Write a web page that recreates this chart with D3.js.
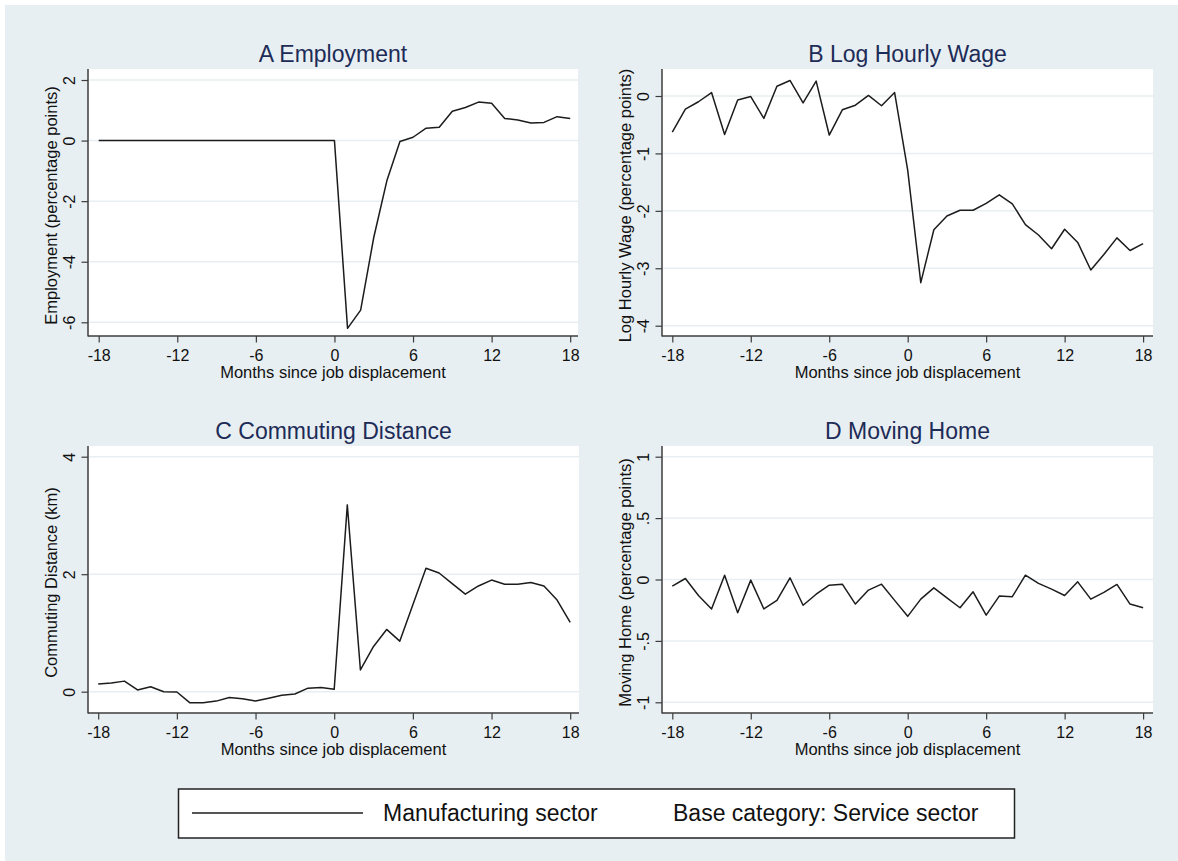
<!DOCTYPE html>
<html>
<head>
<meta charset="utf-8">
<script src="https://cdn.jsdelivr.net/npm/d3@7/dist/d3.min.js"></script>
<style>
  html, body { margin: 0; padding: 0; background: #ffffff; }
  svg { display: block; font-family: "Liberation Sans", Arial, sans-serif; }
</style>
</head>
<body>
<svg id="chart" width="1178" height="861"></svg>
<script>
// Months relative to job displacement
const months = [-18,-17,-16,-15,-14,-13,-12,-11,-10,-9,-8,-7,-6,-5,-4,-3,-2,-1,
                0,1,2,3,4,5,6,7,8,9,10,11,12,13,14,15,16,17,18];
const xTicks = [-18, -12, -6, 0, 6, 12, 18];

// Manufacturing-sector coefficients (base category: service sector)
const employment = [0,0,0,0,0,0,0,0,0,0,0,0,0,0,0,0,0,0,
                    0,-6.2,-5.6,-3.2,-1.33,-0.03,0.11,0.41,0.44,0.97,1.09,1.27,1.23,0.73,0.68,0.58,0.6,0.79,0.73];
const logWage = [-0.63,-0.23,-0.1,0.06,-0.67,-0.07,-0.01,-0.39,0.17,0.27,-0.12,0.26,-0.68,-0.24,-0.16,0.01,-0.17,0.06,
                 -1.29,-3.25,-2.33,-2.09,-1.99,-1.99,-1.87,-1.72,-1.88,-2.24,-2.42,-2.66,-2.32,-2.55,-3.03,-2.76,-2.47,-2.69,-2.57];
const commuting = [0.13,0.15,0.18,0.03,0.085,0.0,-0.005,-0.19,-0.19,-0.16,-0.1,-0.12,-0.16,-0.11,-0.06,-0.04,0.06,0.07,
                   0.04,3.18,0.37,0.77,1.06,0.86,1.48,2.1,2.02,1.84,1.66,1.8,1.9,1.83,1.83,1.86,1.8,1.56,1.18];
const movingHome = [-0.054,0.008,-0.13,-0.24,0.035,-0.27,-0.005,-0.24,-0.17,0.014,-0.21,-0.12,-0.046,-0.038,-0.2,-0.086,-0.038,-0.17,
                    -0.3,-0.16,-0.068,-0.15,-0.23,-0.1,-0.29,-0.135,-0.14,0.035,-0.032,-0.078,-0.13,-0.019,-0.16,-0.105,-0.04,-0.2,-0.23];

// Panel titles, y-axis titles and y ticks
const panelTitles = ["A Employment", "B Log Hourly Wage", "C Commuting Distance", "D Moving Home"];
const yTitles = ["Employment (percentage points)", "Log Hourly Wage (percentage points)",
                 "Commuting Distance (km)", "Moving Home (percentage points)"];
const yTicksA = [-6, -4, -2, 0, 2];
const yTicksB = [-4, -3, -2, -1, 0];
const yTicksC = [0, 2, 4];
const yTicksD = [-1, -0.5, 0, 0.5, 1];
const xTitle = "Months since job displacement";
const legendLabels = ["Manufacturing sector", "Base category: Service sector"];

const series = [employment, logWage, commuting, movingHome];
const yTickSets = [yTicksA, yTicksB, yTicksC, yTicksD];

// Layout of each panel: plot region, x range for [-18, 18], y domain/range
const layout = [
  { box: [88, 578, 69, 336],  xr: [98.7, 570.2],  yd: [-6, 2], yr: [322.3, 80.0] },
  { box: [662, 1153, 69, 336], xr: [672.3, 1143.1], yd: [-4, 0], yr: [325.7, 96.0] },
  { box: [88, 579, 446, 713], xr: [98.2, 570.2],  yd: [0, 4],  yr: [691.7, 456.7] },
  { box: [662, 1153, 446, 713], xr: [672.3, 1143.1], yd: [-1, 1], yr: [702.3, 456.7] }
];

const BG = "#e8eff2";
const AXIS = "#3c3c3c";
const GRID = "#e7eff2";
const LINE = "#1c1c1c";
const TITLE = "#1d2b57";

const svg = d3.select("#chart");

// Outer graph region
svg.append("rect").attr("x", 5).attr("y", 5).attr("width", 1173).attr("height", 856).attr("fill", BG);

const fmt = d => {
  if (d === 0) return "0";
  let s = String(d);
  s = s.replace("0.", ".");
  return s;
};

layout.forEach((L, i) => {
  const [bx0, bx1, by0, by1] = L.box;
  const x = d3.scaleLinear().domain([-18, 18]).range(L.xr);
  const y = d3.scaleLinear().domain(L.yd).range(L.yr);
  const g = svg.append("g");

  // plot region
  g.append("rect").attr("x", bx0).attr("y", by0).attr("width", bx1 - bx0).attr("height", by1 - by0)
    .attr("fill", "#ffffff");

  // horizontal grid lines
  g.append("g").selectAll("line").data(yTickSets[i]).join("line")
    .attr("x1", bx0 + 1).attr("x2", bx1)
    .attr("y1", d => y(d)).attr("y2", d => y(d))
    .attr("stroke", GRID).attr("stroke-width", 1.5);

  // data line
  const line = d3.line().x((d, j) => x(months[j])).y(d => y(d));
  g.append("path").datum(series[i]).attr("d", line)
    .attr("fill", "none").attr("stroke", LINE).attr("stroke-width", 1.5)
    .attr("stroke-linejoin", "round");

  // y axis
  const yAxis = g.append("g").attr("transform", `translate(${bx0},0)`)
    .call(d3.axisLeft(y).tickValues(yTickSets[i]).tickSize(6.5).tickFormat(fmt));
  yAxis.select(".domain").remove();
  yAxis.selectAll(".tick line").attr("stroke", AXIS).attr("stroke-width", 1.2);
  yAxis.selectAll(".tick text")
    .attr("x", null).attr("dy", null)
    .attr("transform", "translate(-13.5,0) rotate(-90)")
    .attr("text-anchor", "middle")
    .attr("fill", "#111").attr("font-size", 16)
    .attr("font-family", "Liberation Sans, Arial, sans-serif");

  // x axis
  const xAxis = g.append("g").attr("transform", `translate(0,${by1})`)
    .call(d3.axisBottom(x).tickValues(xTicks).tickSize(6.5).tickFormat(d => String(d)));
  xAxis.select(".domain").remove();
  xAxis.selectAll(".tick line").attr("stroke", AXIS).attr("stroke-width", 1.2);
  xAxis.selectAll(".tick text")
    .attr("y", null).attr("dy", null)
    .attr("transform", "translate(0,25)")
    .attr("fill", "#111").attr("font-size", 16)
    .attr("font-family", "Liberation Sans, Arial, sans-serif");

  // axis lines
  g.append("line").attr("x1", bx0).attr("x2", bx0).attr("y1", by0).attr("y2", by1 + 0.6)
    .attr("stroke", AXIS).attr("stroke-width", 1.5);
  g.append("line").attr("x1", bx0).attr("x2", bx1).attr("y1", by1).attr("y2", by1)
    .attr("stroke", AXIS).attr("stroke-width", 1.5);

  // axis titles
  g.append("text").attr("x", (bx0 + bx1) / 2).attr("y", by1 + 42)
    .attr("text-anchor", "middle").attr("font-size", 16.5).attr("fill", "#111")
    .text(xTitle);
  g.append("text")
    .attr("transform", `translate(${bx0 - 31.5},${(by0 + by1) / 2 + 3}) rotate(-90)`)
    .attr("text-anchor", "middle").attr("font-size", 16.5).attr("fill", "#111")
    .text(yTitles[i]);

  // panel title
  g.append("text").attr("x", (bx0 + bx1) / 2).attr("y", by0 - 7)
    .attr("text-anchor", "middle").attr("font-size", 23).attr("fill", TITLE)
    .text(panelTitles[i]);
});

// legend
const leg = svg.append("g");
leg.append("rect").attr("x", 178.5).attr("y", 789).attr("width", 836).attr("height", 49)
  .attr("fill", "#ffffff").attr("stroke", "#222").attr("stroke-width", 1.5);
leg.append("line").attr("x1", 192).attr("x2", 363).attr("y1", 813).attr("y2", 813)
  .attr("stroke", LINE).attr("stroke-width", 1.5);
leg.append("text").attr("x", 383).attr("y", 821).attr("font-size", 23).attr("fill", "#111")
  .text(legendLabels[0]);
leg.append("text").attr("x", 673).attr("y", 821).attr("font-size", 23).attr("fill", "#111")
  .text(legendLabels[1]);
</script>
</body>
</html>
